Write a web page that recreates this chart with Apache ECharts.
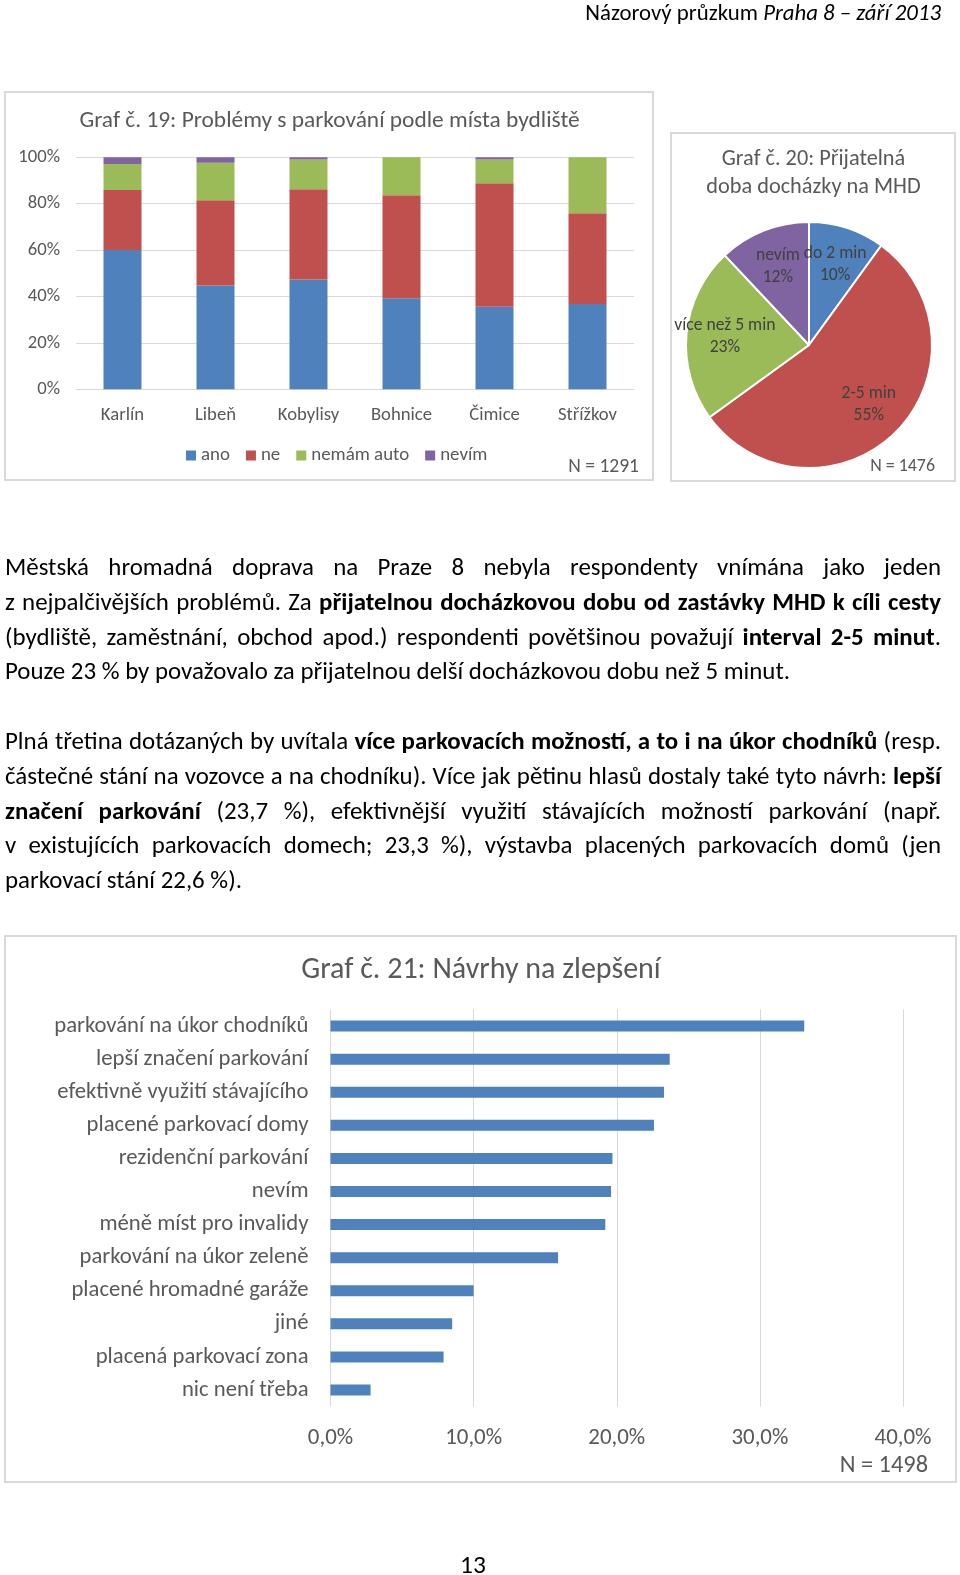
<!DOCTYPE html>
<html>
<head>
<meta charset="utf-8">
<script src="https://cdn.jsdelivr.net/npm/echarts@6/dist/echarts.min.js"></script>
<style>
  html, body { margin:0; padding:0; background:#fff; }
  body { width:960px; height:1575px; position:relative; overflow:hidden;
         font-family: Carlito, Lato, sans-serif; color:#000; }
  #chart { position:absolute; left:0; top:0; width:960px; height:1575px; z-index:0; }
  .txt { position:absolute; z-index:1; }
  #header { right:19px; top:0px; font-size:22.8px; line-height:24px; }
  .para { left:5px; width:936px; font-size:24.9px; line-height:34.8px; }
  .para .l { display:block; text-align:justify; text-align-last:justify; white-space:nowrap; }
  .para .last { display:block; text-align:left; white-space:nowrap; }
  #p1 { top:550px; }
  #p2 { top:724px; }
  #pagenum { left:460px; top:1550px; font-size:25.5px; line-height:30px; }
</style>
</head>
<body>
<div id="chart"></div>
<div id="header" class="txt">Názorový průzkum <i>Praha 8 – září 2013</i></div>
<div id="p1" class="txt para">
  <span class="l">Městská hromadná doprava na Praze 8 nebyla respondenty vnímána jako jeden</span>
  <span class="l">z nejpalčivějších problémů. Za <b>přijatelnou docházkovou dobu od zastávky MHD k cíli cesty</b></span>
  <span class="l">(bydliště, zaměstnání, obchod apod.) respondenti povětšinou považují <b>interval 2-5 minut</b>.</span>
  <span class="last">Pouze 23 % by považovalo za přijatelnou delší docházkovou dobu než 5 minut.</span>
</div>
<div id="p2" class="txt para">
  <span class="l">Plná třetina dotázaných by uvítala <b>více parkovacích možností, a to i na úkor chodníků</b> (resp.</span>
  <span class="l">částečné stání na vozovce a na chodníku). Více jak pětinu hlasů dostaly také tyto návrh: <b>lepší</b></span>
  <span class="l"><b>značení parkování</b> (23,7 %), efektivnější využití stávajících možností parkování (např.</span>
  <span class="l">v existujících parkovacích domech; 23,3 %), výstavba placených parkovacích domů (jen</span>
  <span class="last">parkovací stání 22,6 %).</span>
</div>
<div id="pagenum" class="txt">13</div>
<script>
// ---- Graf 19 data ----
const districts = ['Karlín', 'Libeň', 'Kobylisy', 'Bohnice', 'Čimice', 'Střížkov'];
const ano       = [60.0, 44.7, 47.3, 39.2, 35.6, 36.8];
const ne        = [25.9, 36.8, 38.9, 44.4, 53.2, 39.1];
const nemamAuto = [11.2, 16.2, 12.8, 16.4, 10.2, 24.1];
const nevim     = [2.9, 2.3, 1.0, 0.0, 1.0, 0.0];
const yTicks19  = [0, 20, 40, 60, 80, 100];

// ---- Graf 20 data ----
const pieNames  = ['do 2 min', '2-5 min', 'více než 5 min', 'nevím'];
const pieValues = [10, 55, 23, 12];

// ---- Graf 21 data ----
const proposals = ['parkování na úkor chodníků', 'lepší značení parkování', 'efektivně využití stávajícího',
  'placené parkovací domy', 'rezidenční parkování', 'nevím', 'méně míst pro invalidy',
  'parkování na úkor zeleně', 'placené hromadné garáže', 'jiné', 'placená parkovací zona', 'nic není třeba'];
const proposalValues = [33.1, 23.7, 23.3, 22.6, 19.7, 19.6, 19.2, 15.9, 10.0, 8.5, 7.9, 2.8];

const FONT = 'Carlito, Lato, sans-serif';
const GREY = '#595959';
const GRID = '#d9d9d9';
const C_BLUE = '#4f81bd', C_RED = '#c0504d', C_GREEN = '#9bbb59', C_PURPLE = '#8064a2';

const chart = echarts.init(document.getElementById('chart'), null, { renderer: 'canvas' });

const stackNames = ['ano', 'ne', 'nemám auto', 'nevím'];
const stackData = [ano, ne, nemamAuto, nevim];
const stackColors = [C_BLUE, C_RED, C_GREEN, C_PURPLE];

const barSeries = stackNames.map((n, i) => ({
  name: n, type: 'bar', stack: 'total', xAxisIndex: 0, yAxisIndex: 0,
  barWidth: 38, data: stackData[i], itemStyle: { color: stackColors[i] },
  emphasis: { disabled: true }
}));

const pieData = pieNames.map((n, i) => ({ name: n, value: pieValues[i] }));
const pieColors = [C_BLUE, C_RED, C_GREEN, C_PURPLE];

function textEl(text, x, y, size, align) {
  return { type: 'text', x: x, y: y, silent: true,
    style: { text: text, fill: GREY, font: size + 'px ' + FONT, align: align || 'center', verticalAlign: 'middle' } };
}
function boxEl(x, y, w, h) {
  return { type: 'rect', silent: true, shape: { x: x, y: y, width: w, height: h },
    style: { fill: 'none', stroke: GRID, lineWidth: 2 } };
}

const option = {
  backgroundColor: '#fff',
  animation: false,
  textStyle: { fontFamily: FONT },
  grid: [
    { left: 76, top: 157.3, width: 558, height: 232, containLabel: false },
    { left: 330.5, top: 1009.5, width: 572.5, height: 397, containLabel: false }
  ],
  legend: {
    data: stackNames, left: 181, top: 441, icon: 'rect', itemWidth: 10, itemHeight: 10, itemGap: 16,
    textStyle: { color: GREY, fontSize: 18.9, fontFamily: FONT }, selectedMode: false
  },
  xAxis: [
    { type: 'category', gridIndex: 0, data: districts,
      axisLine: { lineStyle: { color: GRID } }, axisTick: { show: false },
      axisLabel: { color: GREY, fontSize: 18.7, margin: 17, fontFamily: FONT } },
    { type: 'value', gridIndex: 1, min: 0, max: 40, interval: 10,
      axisLine: { show: false }, axisTick: { show: false },
      splitLine: { lineStyle: { color: GRID } },
      axisLabel: { color: GREY, fontSize: 22.9, margin: 20, fontFamily: FONT,
        formatter: v => v.toFixed(1).replace('.', ',') + '%' } }
  ],
  yAxis: [
    { type: 'value', gridIndex: 0, min: yTicks19[0], max: yTicks19[yTicks19.length - 1], interval: 20,
      axisLine: { show: false }, axisTick: { show: false },
      splitLine: { lineStyle: { color: GRID } },
      axisLabel: { color: GREY, fontSize: 18.7, margin: 16, fontFamily: FONT, formatter: '{value}%' } },
    { type: 'category', gridIndex: 1, data: proposals, inverse: true,
      axisLine: { show: false }, axisTick: { show: false },
      axisLabel: { color: GREY, fontSize: 22.7, margin: 22, fontFamily: FONT } }
  ],
  series: [
    ...barSeries,
    { type: 'pie', center: [809, 345], radius: [0, 123], startAngle: 90, clockwise: true,
      data: pieData, label: { show: false }, labelLine: { show: false },
      itemStyle: { borderColor: '#fff', borderWidth: 2,
        color: p => pieColors[p.dataIndex] },
      emphasis: { disabled: true }, silent: true },
    { type: 'pie', center: [809, 345], radius: [40, 123], startAngle: 90, clockwise: true,
      data: pieData, labelLine: { show: false },
      itemStyle: { color: 'rgba(0,0,0,0)' },
      label: { show: true, position: 'inside', formatter: '{b}\n{c}%', color: '#404040',
        fontSize: 17.6, lineHeight: 22, fontFamily: FONT },
      emphasis: { disabled: true }, silent: true },
    { type: 'bar', xAxisIndex: 1, yAxisIndex: 1, data: proposalValues, barWidth: 11,
      itemStyle: { color: C_BLUE }, emphasis: { disabled: true } }
  ],
  graphic: [
    boxEl(5, 92, 648, 388),
    boxEl(671, 133, 284, 348),
    boxEl(5, 936, 951, 546),
    textEl('Graf č. 19: Problémy s parkování podle místa bydliště', 329.5, 121, 23.4),
    textEl('N = 1291', 639, 467, 19.5, 'right'),
    textEl('Graf č. 20: Přijatelná', 813.5, 159, 22.3),
    textEl('doba docházky na MHD', 813.5, 187, 22.3),
    textEl('N = 1476', 935, 467, 17.9, 'right'),
    textEl('Graf č. 21: Návrhy na zlepšení', 481, 970, 30),
    textEl('N = 1498', 928, 1466, 24.4, 'right')
  ]
};
chart.setOption(option);
</script>
</body>
</html>
